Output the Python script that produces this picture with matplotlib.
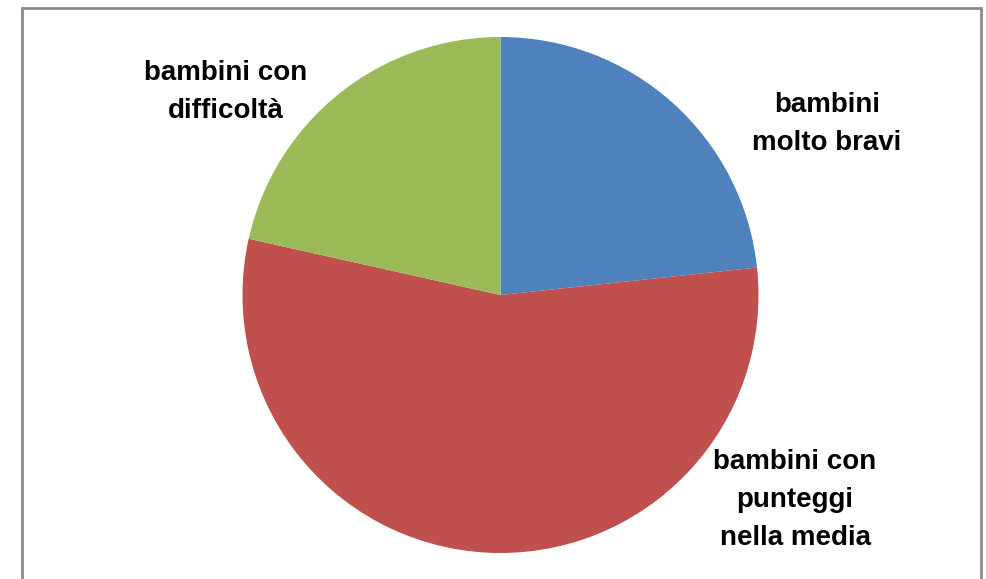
import matplotlib.pyplot as plt
from matplotlib.patches import Rectangle

# data (percent shares)
categories = ["bambini\nmolto bravi", "bambini con\npunteggi\nnella media", "bambini con\ndifficoltà"]
shares = [23.3, 55.2, 21.5]
colors = ["#4F81BD", "#C0504D", "#9BBB59"]

W, H = 986, 579
fig = plt.figure(figsize=(W / 100, H / 100), dpi=100)
ax = fig.add_axes([0, 0, 1, 1])

# outer chart frame
ax.add_patch(Rectangle((21.5, -20), 959, H - 7.5 + 20, fill=False,
                       edgecolor="#8C8C8C", linewidth=2))

ax.pie(shares, colors=colors, startangle=90, counterclock=False,
       center=(500.5, H - 295), radius=258, frame=True,
       wedgeprops={"linewidth": 0})
ax.set_xlim(0, W)
ax.set_ylim(0, H)
ax.set_aspect("equal")
ax.axis("off")

label_pos = [(827, H - 124), (795, H - 500), (226, H - 92)]
for text, (x, y) in zip(categories, label_pos):
    ax.text(x, y, text, ha="center", va="center", fontsize=20,
            fontweight="bold", family="Liberation Sans", linespacing=1.6)

fig.savefig("out.png", dpi=100)
